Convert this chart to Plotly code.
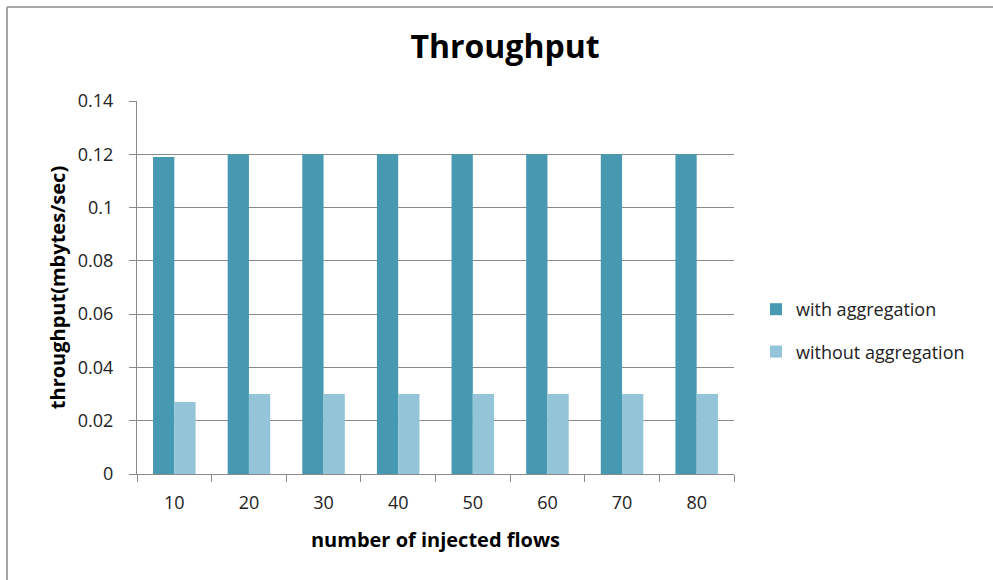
import plotly.graph_objects as go

# Injected flow counts and measured throughput (mbytes/sec)
flows = ["10", "20", "30", "40", "50", "60", "70", "80"]
with_aggregation = [0.119, 0.12, 0.12, 0.12, 0.12, 0.12, 0.12, 0.12]
without_aggregation = [0.027, 0.03, 0.03, 0.03, 0.03, 0.03, 0.03, 0.03]

W, H = 993, 580
L, R, T, B = 137, 259, 101, 106
pw, ph = W - L - R, H - T - B

def px_x(px):
    return (px - L) / pw

def px_y(py):
    return 1 - (py - T) / ph

FONT = "Open Sans"
GRID = "#8a8a8a"
TXT = "#222222"

fig = go.Figure()
fig.add_trace(go.Bar(x=flows, y=with_aggregation, name="with aggregation",
                     legendgroup="a",
                     marker=dict(color="#4699b1", line=dict(width=0))))
fig.add_trace(go.Bar(x=flows, y=without_aggregation, name="without aggregation",
                     legendgroup="b",
                     marker=dict(color="#93c4d7", line=dict(width=0))))

# Chart frame: top and left edges of the outer border
frame = dict(color="#a6a6a6", width=2)
shapes = [
    dict(type="line", xref="paper", yref="paper",
         x0=px_x(7), x1=px_x(1010), y0=px_y(7), y1=px_y(7), line=frame),
    dict(type="line", xref="paper", yref="paper",
         x0=px_x(7), x1=px_x(7), y0=px_y(7), y1=px_y(600), line=frame),
]

fig.update_layout(
    width=W, height=H,
    margin=dict(l=L, r=R, t=T, b=B),
    paper_bgcolor="white", plot_bgcolor="white",
    barmode="group", bargap=0.43, bargroupgap=0,
    font=dict(family=FONT, color=TXT),
    title=dict(text="<b>Throughput</b>", x=505 / W, xref="container", xanchor="center",
               y=1 - 47 / H, yref="container", yanchor="middle",
               font=dict(size=32, family=FONT, color="#000000")),
    showlegend=True,
    legend=dict(x=px_x(756), y=px_y(291), xanchor="left", yanchor="top",
                font=dict(size=18, family=FONT, color=TXT),
                tracegroupgap=16, itemwidth=30, bgcolor="rgba(0,0,0,0)"),
    xaxis=dict(
        type="category", tickson="boundaries", ticks="outside", ticklen=7,
        tickcolor=GRID, showline=True, linecolor=GRID, linewidth=1,
        showgrid=False,
        tickfont=dict(size=18, family=FONT, color=TXT),
        ticklabelstandoff=12,
        title=dict(text="<b>number of injected flows</b>", standoff=20,
                   font=dict(size=20, family=FONT, color="#000000")),
    ),
    yaxis=dict(
        range=[0, 0.14], dtick=0.02, tick0=0, ticks="outside", ticklen=7,
        tickcolor=GRID, showline=True, linecolor=GRID, linewidth=1,
        showgrid=True, gridcolor=GRID, gridwidth=1, zeroline=False,
        tickfont=dict(size=18, family=FONT, color=TXT),
        ticklabelstandoff=12,
        title=dict(text="<b>throughput(mbytes/sec)</b>", standoff=6,
                   font=dict(size=20, family=FONT, color="#000000")),
    ),
    shapes=shapes,
)

fig.write_html("out.html")
